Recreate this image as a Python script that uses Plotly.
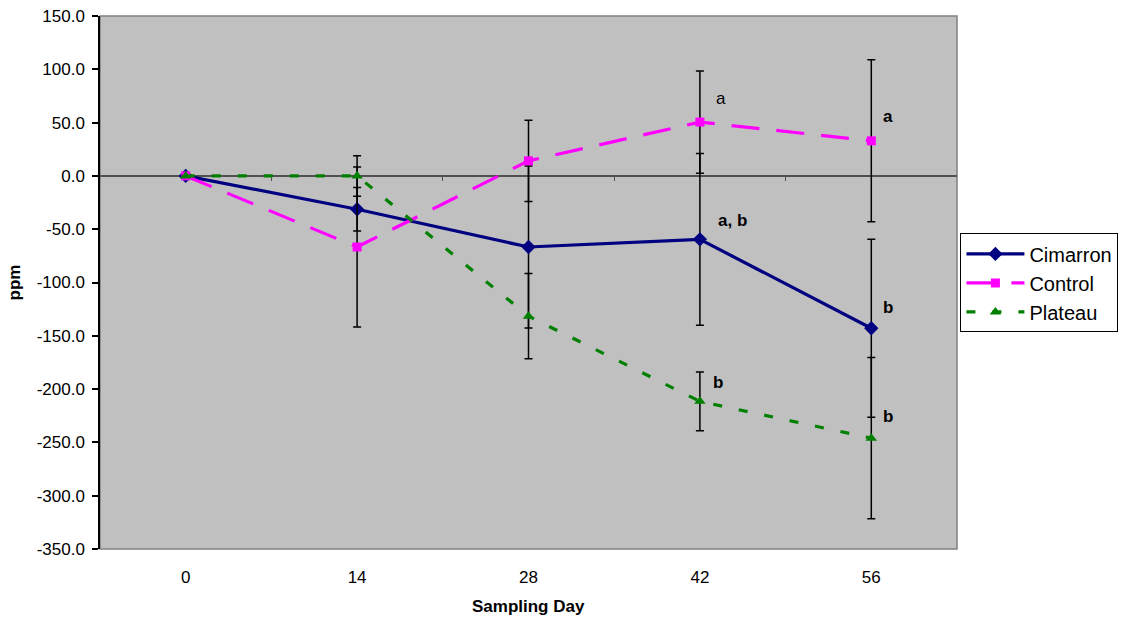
import plotly.graph_objects as go

# ---- data ----
days = ["0", "14", "28", "42", "56"]
cimarron = [0.0, -31.3, -66.7, -59.5, -142.9]
cimarron_err = [None, 20.5, 76.0, 80.6, 83.5]
control = [0.0, -66.7, 14.1, 50.5, 32.9]
control_err = [None, 75.0, 38.0, 48.0, 76.0]
plateau = [0.0, 0.0, -131.6, -211.5, -246.0]
plateau_err = [None, 19.0, 40.0, 27.5, 75.6]

y_ticks = [150, 100, 50, 0, -50, -100, -150, -200, -250, -300, -350]
y_tick_labels = ["150.0", "100.0", "50.0", "0.0", "-50.0", "-100.0", "-150.0",
                 "-200.0", "-250.0", "-300.0", "-350.0"]

# letter annotations: (series, day index, text, bold, xshift, yshift)
letters = [
    ("control", 3, "a", False, 14, 24),
    ("cimarron", 3, "a, b", True, 16, 19),
    ("plateau", 3, "b", True, 11, 19),
    ("control", 4, "a", True, 10, 24),
    ("cimarron", 4, "b", True, 10, 21),
    ("plateau", 4, "b", True, 10, 22),
]

FONT = "Liberation Sans, Arial, sans-serif"
xpos = list(range(len(days)))
series_vals = {"cimarron": cimarron, "control": control, "plateau": plateau}

fig = go.Figure()

def add_series(name, y, err, color, dash, symbol, msize):
    fig.add_trace(go.Scatter(
        x=xpos, y=y, name=name, mode="lines+markers",
        line=dict(color=color, width=3.2, dash=dash),
        marker=dict(color=color, symbol=symbol, size=msize,
                    line=dict(width=0)),
        error_y=dict(type="data", array=[e if e is not None else float("nan") for e in err],
                     visible=True, color="black", thickness=1.5, width=4),
    ))

add_series("Cimarron", cimarron, cimarron_err, "#000080", "solid", "diamond", 11)
add_series("Control", control, control_err, "#FF00FF", "28px,17px", "square", 9)
add_series("Plateau", plateau, plateau_err, "#008000", "9px,17px", "triangle-up", 10)

# empty trace on overlay axis carrying the category tick marks on the zero line
fig.add_trace(go.Scatter(x=[], y=[], xaxis="x2", showlegend=False, hoverinfo="skip"))

for series, idx, text, bold, xs, ys in letters:
    fig.add_annotation(
        x=xpos[idx], y=series_vals[series][idx], xref="x", yref="y",
        text=f"<b>{text}</b>" if bold else text, showarrow=False,
        xanchor="left", yanchor="middle", xshift=xs, yshift=ys,
        font=dict(family=FONT, size=17, color="black"),
    )

# x-axis title
fig.add_annotation(x=0.5, y=0, xref="paper", yref="paper", yshift=-57,
                   text="<b>Sampling Day</b>", showarrow=False,
                   xanchor="center", yanchor="middle",
                   font=dict(family=FONT, size=17, color="black"))

# plot-area border (grey)
fig.add_shape(type="rect", xref="paper", yref="paper", x0=0, x1=1, y0=0, y1=1,
              line=dict(color="#808080", width=1.5), layer="below")

fig.update_layout(
    width=1125, height=618,
    margin=dict(l=100, r=168, t=16, b=69, autoexpand=False),
    paper_bgcolor="white", plot_bgcolor="#C0C0C0",
    font=dict(family=FONT, size=17, color="black"),
    showlegend=True,
    legend=dict(x=1.004, y=0.592, xanchor="left", yanchor="top",
                bgcolor="white", bordercolor="black", borderwidth=1,
                font=dict(family=FONT, size=20, color="black"),
                itemwidth=58, tracegroupgap=0),
    xaxis=dict(range=[-0.5, 4.5], tickvals=xpos, ticktext=days,
               showgrid=False, zeroline=False, showline=False,
               ticks="outside", ticklen=0, ticklabelstandoff=13,
               automargin=False),
    xaxis2=dict(overlaying="x", anchor="free", position=0.7, side="bottom",
                range=[-0.5, 4.5], tickvals=[0.5, 1.5, 2.5, 3.5],
                ticks="outside", ticklen=4, tickcolor="#505050", tickwidth=1,
                showticklabels=False, showgrid=False, zeroline=False, showline=False),
    yaxis=dict(range=[-350, 150], tickvals=y_ticks, ticktext=y_tick_labels,
               showgrid=False, zeroline=True, zerolinecolor="#505050", zerolinewidth=1.5,
               showline=True, linecolor="black", linewidth=1.5,
               ticks="outside", ticklen=6, tickcolor="black", tickwidth=1.5,
               ticklabelstandoff=4, automargin=False,
               title=dict(text="<b>ppm</b>", standoff=12,
                          font=dict(family=FONT, size=17))),
)

fig.write_html("out.html")
